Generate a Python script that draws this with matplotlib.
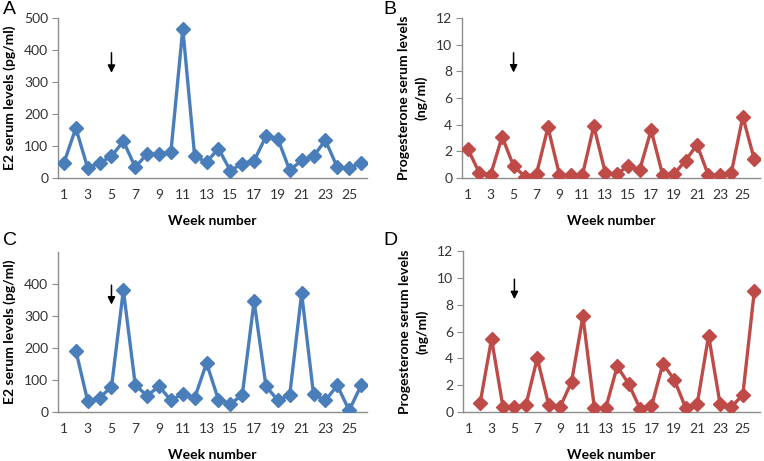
import numpy as np
import matplotlib.pyplot as plt

plt.rcParams['font.family'] = ['Lato', 'DejaVu Sans']

weeks = np.arange(1, 27)

# E2 serum levels (pg/ml)
e2_a = [47, 156, 31, 47, 68, 115, 34, 75, 75, 81, 467, 68, 50, 92, 23, 45, 54, 130, 122, 24, 55, 68, 118, 33, 31, 47]
e2_c = [np.nan, 192, 34, 45, 78, 381, 85, 50, 81, 36, 57, 44, 153, 38, 26, 52, 346, 81, 36, 54, 371, 55, 36, 83, 5, 83]

# Progesterone serum levels (ng/ml)
prog_b = [2.2, 0.4, 0.25, 3.1, 0.9, 0.1, 0.3, 3.8, 0.25, 0.2, 0.2, 3.9, 0.4, 0.3, 0.9, 0.6, 3.6, 0.25, 0.3, 1.3, 2.5, 0.2, 0.25, 0.4, 4.6, 1.4]
prog_d = [np.nan, 0.67, 5.45, 0.37, 0.37, 0.5, 4.0, 0.55, 0.37, 2.24, 7.13, 0.3, 0.3, 3.4, 2.1, 0.25, 0.42, 3.6, 2.4, 0.3, 0.57, 5.7, 0.62, 0.37, 1.3, 9.0]

blue = '#4A7EBB'
red = '#BE4B48'
grey = '#8C8C8C'

W, H = 764, 461
fig = plt.figure(figsize=(W / 100, H / 100), dpi=100)

def px(left, top, right, bottom):
    return [left / W, 1 - bottom / H, (right - left) / W, (bottom - top) / H]

panels = [
    ('A', px(58, 18, 367, 178), (3, 1), e2_a, blue, 'E2 serum levels (pg/ml)', (0, 500), [0, 100, 200, 300, 400, 500], (400, 320)),
    ('B', px(462, 18, 760, 178), (383, 1), prog_b, red, 'Progesterone serum levels\n(ng/ml)', (0, 12), [0, 2, 4, 6, 8, 10, 12], (9.6, 7.7)),
    ('C', px(58, 252, 367, 412), (3, 232), e2_c, blue, 'E2 serum levels (pg/ml)', (0, 500), [0, 100, 200, 300, 400], (405, 327)),
    ('D', px(463, 251, 760, 412), (383, 232), prog_d, red, 'Progesterone serum levels\n(ng/ml)', (0, 12), [0, 2, 4, 6, 8, 10, 12], (10.1, 8.2)),
]

for letter, pos, lpos, vals, col, ylab, ylim, yt, arrow in panels:
    ax = fig.add_axes(pos)
    ax.plot(weeks, vals, color=col, lw=2.4, marker='D', markersize=7.5, zorder=3)
    ax.set_xlim(0.5, 26.5)
    ax.set_ylim(*ylim)
    ax.set_yticks(yt)
    ax.set_xticks(np.arange(1, 27, 2))
    for s in ['top', 'right']:
        ax.spines[s].set_visible(False)
    for s in ['left', 'bottom']:
        ax.spines[s].set_color(grey)
        ax.spines[s].set_linewidth(1)
    ax.tick_params(axis='y', length=4, color=grey, labelsize=10, labelcolor='#333333', pad=3)
    ax.tick_params(axis='x', length=0, labelsize=10, labelcolor='#333333', pad=8)
    ax.set_xlabel('Week number', fontsize=10, fontweight='bold', labelpad=10)
    ax.set_ylabel(ylab, fontsize=10, fontweight='bold', labelpad=6, linespacing=1.45)
    ax.annotate('', xy=(5, arrow[1]), xytext=(5, arrow[0]),
                arrowprops=dict(arrowstyle='-|>', color='black', lw=1.1, mutation_scale=11))
    fig.text(lpos[0] / W, 1 - lpos[1] / H, letter,
             fontsize=14, family='Liberation Sans', va='top', ha='left')

fig.savefig('out.png', dpi=100)
